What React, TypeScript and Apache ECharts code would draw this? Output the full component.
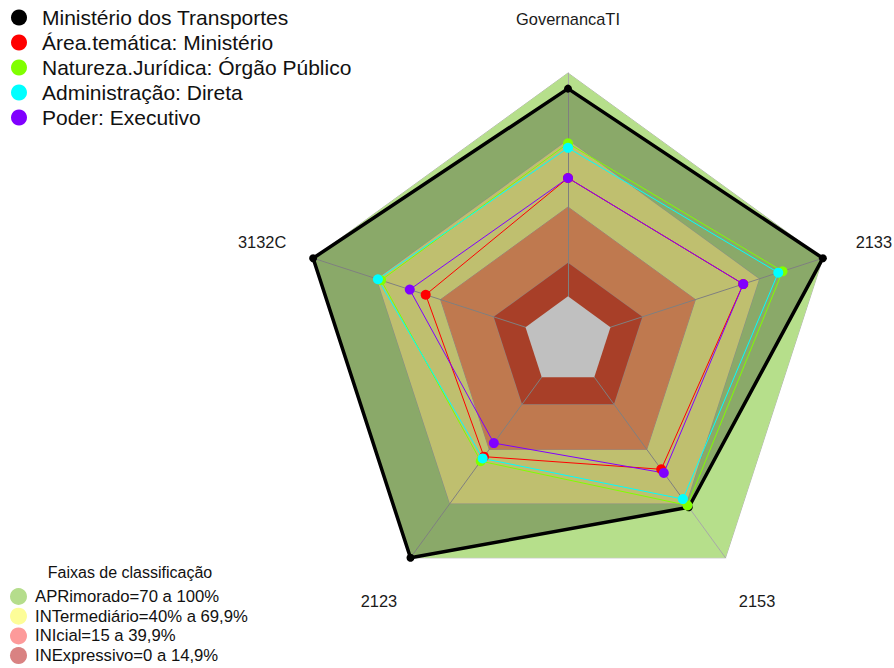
import React, { useEffect, useRef } from 'react';
import * as echarts from 'echarts';

// Indicators in ECharts order (counter-clockwise from the top)
const indicators = ['GovernancaTI', '3132C', '2123', '2153', '2133'];

const seriesNames = [
  'Ministério dos Transportes',
  'Área.temática: Ministério',
  'Natureza.Jurídica: Órgão Público',
  'Administração: Direta',
  'Poder: Executivo',
];
const seriesColors = ['#000000', '#ff0000', '#80ff00', '#00ffff', '#8000ff'];

const ministerio = [93, 100, 100, 72, 100];
const areaTematica = [53, 47, 44, 51, 62.5];
const naturezaJuridica = [68.5, 68, 46.5, 71, 81];
const administracao = [66.5, 69.5, 45, 67.5, 79];
const poder = [53, 54.5, 36.5, 53, 62.5];
const seriesValues = [ministerio, areaTematica, naturezaJuridica, administracao, poder];

const bandNames = [
  'APRimorado=70 a 100%',
  'INTermediário=40% a 69,9%',
  'INIcial=15 a 39,9%',
  'INExpressivo=0 a 14,9%',
];
const bandUpper = [100, 70, 40, 15];
const bandLegendColors = ['#b5dd8c', '#fdfd98', '#fd9a9a', '#d98282'];
const bandFillColors = ['#b6df8b', '#fcfc93', '#fca069', '#dd5435'];

const axisMin = -20;
const axisMax = 100;
const legendTitle = 'Faixas de classificação';

const FONT = "'Liberation Sans', Arial, sans-serif";

export default function App() {
  const ref = useRef<HTMLDivElement>(null);

  useEffect(() => {
    if (!ref.current) return;
    const chart = echarts.init(ref.current, undefined, { renderer: 'svg' });
    const cx = 568;
    const cy = 341;
    const R = 268;

    const bandSeries = bandNames.map((name, i) => ({
      type: 'radar',
      z: 0,
      silent: true,
      symbol: 'none',
      data: [
        {
          name,
          value: indicators.map(() => bandUpper[i]),
          areaStyle: { color: bandFillColors[i], opacity: 1 },
          lineStyle: { color: '#b4b4b4', width: 1 },
          itemStyle: { color: bandLegendColors[i] },
        },
      ],
    }));

    const baseSeries = {
      type: 'radar',
      z: 2,
      silent: true,
      symbol: 'none',
      data: [
        {
          name: 'base',
          value: indicators.map(() => 0),
          areaStyle: { color: '#fdfdfd', opacity: 1 },
          lineStyle: { width: 0, color: '#fdfdfd' },
        },
      ],
    };

    const dataSeries = seriesNames.map((name, i) => ({
      type: 'radar',
      z: 2,
      symbol: 'circle',
      symbolSize: i === 0 ? 8 : 10,
      data: [
        {
          name,
          value: seriesValues[i],
          itemStyle: { color: seriesColors[i] },
          lineStyle: { color: seriesColors[i], width: i === 0 ? 3.5 : 1 },
          areaStyle: i === 0 ? { color: 'rgba(0,0,0,0.24)', opacity: 1 } : undefined,
        },
      ],
    }));

    const labels = indicators.map((name, i) => {
      const a = ((90 + i * 72) * Math.PI) / 180;
      return {
        type: 'text',
        x: cx + 1.2 * R * Math.cos(a),
        y: cy - 1.2 * R * Math.sin(a),
        style: {
          text: name,
          fill: '#1a1a1a',
          font: `16.4px ${FONT}`,
          align: 'center',
          verticalAlign: 'middle',
        },
      };
    });

    chart.setOption({
      animation: false,
      textStyle: { fontFamily: FONT },
      radar: {
        center: [cx, cy],
        radius: R,
        startAngle: 90,
        shape: 'polygon',
        splitNumber: 1,
        z: 1,
        indicator: indicators.map((n) => ({ name: n, min: axisMin, max: axisMax })),
        axisName: { show: false },
        axisLine: { lineStyle: { color: '#a8a8a8', width: 1 } },
        splitLine: { show: false },
        splitArea: { show: false },
      },
      legend: [
        {
          data: seriesNames.map((n, i) => ({ name: n, itemStyle: { color: seriesColors[i], borderWidth: 0 } })),
          orient: 'vertical',
          left: 11,
          top: 7,
          padding: 0,
          icon: 'circle',
          itemWidth: 16,
          itemHeight: 16,
          itemGap: 4,
          selectedMode: false,
          textStyle: { fontSize: 21, color: '#111', fontFamily: FONT, padding: [0, 0, 0, 10] },
        },
        {
          data: bandNames.map((n, i) => ({ name: n, itemStyle: { color: bandLegendColors[i], borderWidth: 0 } })),
          orient: 'vertical',
          left: 10,
          top: 588,
          padding: 0,
          icon: 'circle',
          itemWidth: 17,
          itemHeight: 17,
          itemGap: 2.7,
          selectedMode: false,
          textStyle: { fontSize: 16.7, color: '#111', fontFamily: FONT, padding: [0, 0, 0, 3] },
        },
      ],
      graphic: [
        ...labels,
        {
          type: 'text',
          x: 130,
          y: 572,
          style: {
            text: legendTitle,
            fill: '#111',
            font: `16px ${FONT}`,
            align: 'center',
            verticalAlign: 'middle',
          },
        },
      ],
      series: [...bandSeries, baseSeries, ...dataSeries],
    });

    return () => chart.dispose();
  }, []);

  return (
    <div
      ref={ref}
      style={{ position: 'absolute', left: 0, top: 0, width: 894, height: 668, background: '#fff' }}
    />
  );
}
